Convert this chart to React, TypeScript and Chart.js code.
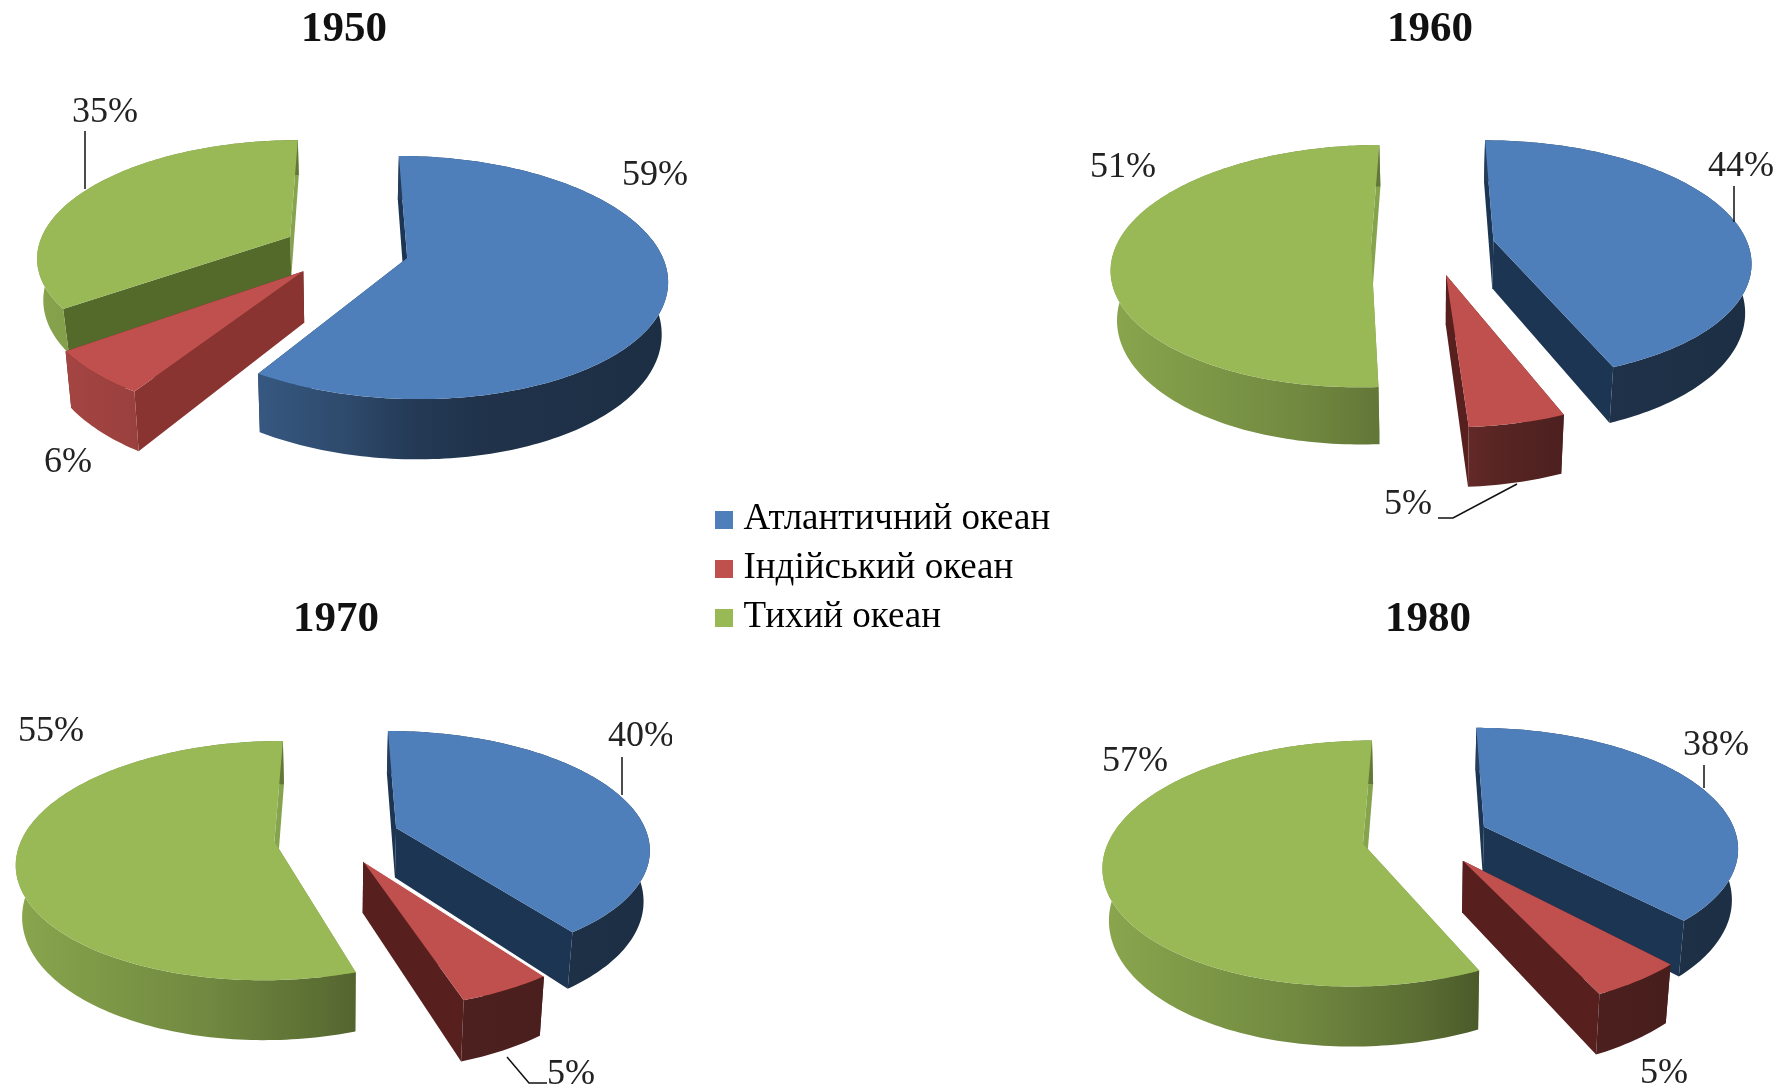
import React, { useEffect, useRef } from "react";
import { Chart, registerables } from "chart.js";

Chart.register(...registerables);

const oceans = ["Атлантичний океан", "Індійський океан", "Тихий океан"];
const share1950 = [59, 6, 35];
const share1960 = [44, 5, 51];
const share1970 = [40, 5, 55];
const share1980 = [38, 5, 57];

const topColors = ["#4f7fbb", "#bf504d", "#99b957"];
const endWalls = ["#1c3553", "#571f1d", "#86a34d"];
const SERIF = '"Liberation Serif", "Times New Roman", serif';
const PAGE_W = 1787;
const PAGE_H = 1091;

type Pt = [number, number];

interface PieView {
  year: string;
  values: number[];
  box: { left: number; top: number; width: number; height: number };
  cx: number;
  cy: number;
  radius: number;
  squash: number;
  perspective: number;
  depth: number;
  explode: number[];
  depthScale: number[];
  cutWalls: string[];
  seam?: number;
  labels: Pt[];
  leaders: Pt[][];
}

const views: PieView[] = [
  {
    year: "1950",
    values: share1950,
    box: { left: 0, top: 0, width: 688, height: 530 },
    cx: 347, cy: 250, radius: 253, squash: 0.458, perspective: 0.159, depth: 50,
    explode: [62, 62, 65],
    depthScale: [1, 1, 0.82],
    cutWalls: ["#1c3553", "#8a3432", "#546a2b"],
    labels: [[655, 176], [68, 463], [105, 113]],
    leaders: [[[85, 131], [85, 189]]],
  },
  {
    year: "1960",
    values: share1960,
    box: { left: 1073, top: 0, width: 714, height: 530 },
    cx: 1432, cy: 246, radius: 255, squash: 0.462, perspective: 0.159, depth: 48,
    explode: [63, 62, 61],
    depthScale: [1, 1, 1],
    cutWalls: ["#1c3553", "#571f1d", "#7d9a45"],
    labels: [[1741, 167], [1408, 505], [1123, 168]],
    leaders: [[[1734, 186], [1734, 222]], [[1438, 518], [1453, 518], [1517, 484]]],
  },
  {
    year: "1970",
    values: share1970,
    box: { left: 0, top: 590, width: 672, height: 501 },
    cx: 336, cy: 837, radius: 252, squash: 0.457, perspective: 0.159, depth: 50,
    explode: [64, 58, 62],
    depthScale: [1, 1, 1],
    cutWalls: ["#1c3553", "#571f1d", "#7d9a45"],
    seam: 1,
    labels: [[641, 737], [571, 1075], [51, 732]],
    leaders: [[[622, 757], [622, 795]], [[507, 1057], [529, 1083], [547, 1083]]],
  },
  {
    year: "1980",
    values: share1980,
    box: { left: 1069, top: 590, width: 718, height: 501 },
    cx: 1428, cy: 837, radius: 253, squash: 0.465, perspective: 0.159, depth: 50,
    explode: [61, 60, 66],
    depthScale: [1, 1, 1],
    cutWalls: ["#1c3553", "#571f1d", "#7d9a45"],
    labels: [[1716, 746], [1664, 1074], [1135, 762]],
    leaders: [[[1704, 765], [1704, 788]]],
  },
];

// Darkens a hex colour by a factor, for the shaded rim of each slice.
function shade(hex: string, f: number): string {
  const n = parseInt(hex.slice(1), 16);
  const c = [(n >> 16) & 255, (n >> 8) & 255, n & 255].map((v) => Math.round(v * f));
  return `rgb(${c[0]},${c[1]},${c[2]})`;
}

// Draws each slice of the pie as a tilted solid, using the angles and offsets
// that the doughnut controller computed for its arc elements.
function solidPiePlugin(view: PieView) {
  const { cx, cy, squash, perspective, depth, box } = view;
  const project = (u: number, v: number, z: number, R: number, zDepth: number): Pt => {
    const s = 1 / (1 - (perspective * v) / R);
    return [
      cx - box.left + u * s * (1 - 0.02 * z),
      cy - box.top + v * squash * s + z * zDepth * s,
    ];
  };
  const trace = (ctx: CanvasRenderingContext2D, pts: Pt[]) => {
    ctx.beginPath();
    pts.forEach(([x, y], i) => (i ? ctx.lineTo(x, y) : ctx.moveTo(x, y)));
    ctx.closePath();
  };

  return {
    id: "solidPie",
    beforeDatasetDraw(chart: Chart) {
      const ctx = chart.ctx;
      const arcs = chart.getDatasetMeta(0).data as any[];
      const order = arcs
        .map((arc, i) => ({ arc, i, mid: (arc.startAngle + arc.endAngle) / 2 }))
        .sort((a, b) => Math.sin(a.mid) - Math.sin(b.mid));

      for (const { arc, i, mid } of order) {
        const R = arc.outerRadius;
        const ox = Math.cos(mid) * arc.options.offset;
        const oy = Math.sin(mid) * arc.options.offset;
        const zDepth = depth * view.depthScale[i];
        const steps = Math.max(4, Math.ceil((arc.endAngle - arc.startAngle) / 0.02));
        const rimAt = (k: number, z: number) => {
          const a = arc.startAngle + ((arc.endAngle - arc.startAngle) * k) / steps;
          return project(ox + R * Math.cos(a), oy + R * Math.sin(a), z, R, zDepth);
        };
        const topRim: Pt[] = [];
        const lowRim: Pt[] = [];
        for (let k = 0; k <= steps; k++) {
          topRim.push(rimAt(k, 0));
          lowRim.push(rimAt(k, 1));
        }
        const apexTop = project(ox, oy, 0, R, zDepth);
        const apexLow = project(ox, oy, 1, R, zDepth);

        // The far cut goes first so the near cut lies over it at the apex.
        ctx.fillStyle = endWalls[i];
        trace(ctx, [apexTop, topRim[steps], lowRim[steps], apexLow]);
        ctx.fill();
        ctx.fillStyle = view.cutWalls[i];
        trace(ctx, [apexTop, topRim[0], lowRim[0], apexLow]);
        ctx.fill();

        const base = topColors[i];
        const originX = cx - box.left;
        const g = ctx.createLinearGradient(originX - 330, 0, originX + 330, 0);
        g.addColorStop(0, shade(base, 0.9));
        g.addColorStop(0.3, shade(base, 0.74));
        g.addColorStop(0.5, shade(base, 0.58));
        g.addColorStop(0.6, shade(base, 0.46));
        g.addColorStop(0.7, shade(base, 0.4));
        g.addColorStop(1, shade(base, 0.36));
        ctx.fillStyle = g;
        trace(ctx, [...topRim, ...lowRim.slice().reverse()]);
        ctx.fill();

        ctx.fillStyle = base;
        trace(ctx, [apexTop, ...topRim]);
        ctx.fill();

        if (view.seam && i === 1) {
          ctx.strokeStyle = "#ffffff";
          ctx.lineWidth = view.seam;
          ctx.beginPath();
          ctx.moveTo(apexTop[0], apexTop[1]);
          ctx.lineTo(topRim[0][0], topRim[0][1]);
          ctx.stroke();
        }
      }
      return false;
    },
    afterDatasetsDraw(chart: Chart) {
      const ctx = chart.ctx;
      ctx.save();
      ctx.strokeStyle = "#111111";
      ctx.lineWidth = 1.5;
      for (const line of view.leaders) {
        ctx.beginPath();
        line.forEach(([x, y], i) =>
          i ? ctx.lineTo(x - box.left, y - box.top) : ctx.moveTo(x - box.left, y - box.top)
        );
        ctx.stroke();
      }
      ctx.fillStyle = "#222222";
      ctx.font = `36px ${SERIF}`;
      ctx.textAlign = "center";
      ctx.textBaseline = "middle";
      view.values.forEach((v, i) => {
        const [x, y] = view.labels[i];
        ctx.fillText(`${v}%`, x - box.left, y - box.top);
      });
      ctx.restore();
    },
  };
}

function PieChart({ view }: { view: PieView }) {
  const ref = useRef<HTMLCanvasElement>(null);
  useEffect(() => {
    const chart = new Chart(ref.current!, {
      type: "pie",
      data: {
        labels: oceans,
        datasets: [{ data: view.values, backgroundColor: topColors, offset: view.explode, borderWidth: 0 }],
      },
      options: {
        animation: false,
        responsive: false,
        radius: view.radius,
        plugins: {
          legend: { display: false },
          tooltip: { enabled: false },
          title: {
            display: true,
            text: view.year,
            color: "#111111",
            font: { family: SERIF, size: 43, weight: "bold" },
            padding: { top: 4, bottom: 0 },
          },
        },
      },
      plugins: [solidPiePlugin(view)],
    } as any);
    return () => chart.destroy();
  }, [view]);
  const { left, top, width, height } = view.box;
  return (
    <canvas
      ref={ref}
      width={width}
      height={height}
      style={{ position: "absolute", left, top, width, height }}
    />
  );
}

// Square swatch used as the legend's point style, so its gap to the text stays tight.
function swatch(color: string): HTMLCanvasElement {
  const c = document.createElement("canvas");
  c.width = 18;
  c.height = 18;
  const g = c.getContext("2d")!;
  g.fillStyle = color;
  g.fillRect(0, 0, 18, 18);
  return c;
}

function LegendChart() {
  const ref = useRef<HTMLCanvasElement>(null);
  useEffect(() => {
    const chart = new Chart(ref.current!, {
      type: "pie",
      data: {
        labels: oceans,
        datasets: [{ data: share1950, backgroundColor: topColors, borderWidth: 0 }],
      },
      options: {
        animation: false,
        responsive: false,
        radius: 0,
        plugins: {
          tooltip: { enabled: false },
          legend: {
            position: "left",
            align: "start",
            maxWidth: 370,
            labels: {
              usePointStyle: true,
              pointStyleWidth: 2,
              padding: 12,
              color: "#111111",
              font: { family: SERIF, size: 37 },
              generateLabels: (c: Chart) =>
                (c.data.labels as string[]).map((text, i) => ({
                  text,
                  fillStyle: topColors[i],
                  strokeStyle: topColors[i],
                  lineWidth: 0,
                  pointStyle: swatch(topColors[i]),
                  index: i,
                })),
            },
          },
        },
      },
    } as any);
    return () => chart.destroy();
  }, []);
  return (
    <canvas
      ref={ref}
      width={370}
      height={170}
      style={{ position: "absolute", left: 711, top: 489, width: 370, height: 170 }}
    />
  );
}

export default function App() {
  return (
    <div style={{ position: "absolute", left: 0, top: 0, width: PAGE_W, height: PAGE_H, background: "#ffffff", overflow: "hidden" }}>
      {views.map((v) => (
        <PieChart key={v.year} view={v} />
      ))}
      <LegendChart />
    </div>
  );
}
